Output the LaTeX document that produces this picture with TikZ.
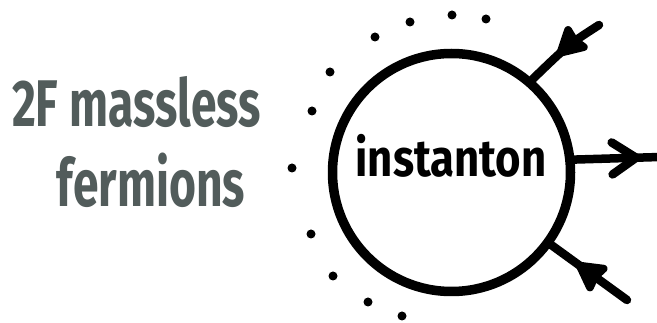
\documentclass[tikz,border=0pt]{standalone}
\usepackage{fontspec}
\setmainfont{Fira Sans}
\newfontfamily\handfont[FakeStretch=0.7]{Fira Sans}
\newfontfamily\blobfont[FakeStretch=0.84]{Fira Sans}
\usetikzlibrary{arrows.meta,decorations.markings}
\definecolor{ink}{HTML}{000000}
\definecolor{slate}{HTML}{525C5B}

\begin{document}
\begin{tikzpicture}[x=1pt, y=-1pt,
  blob/.style={circle, draw=ink, line width=9.5pt, minimum size=238pt, inner sep=0pt},
  fermion/.style={draw=ink, line width=8.5pt, line cap=round},
  inflow/.style={fermion, postaction={decorate, decoration={markings,
    mark=at position #1 with {\arrow{Stealth[length=34pt, width=36pt, inset=3pt, round]}}}}},
  outflow/.style={fermion, postaction={decorate, decoration={markings,
    mark=at position #1 with {\arrow{Straight Barb[length=24pt, width=32pt, round]}}}}},
  tag/.style={font=\handfont\bfseries\fontsize{66}{70}\selectfont, text=slate, anchor=base, inner sep=0pt},
  blobtag/.style={font=\blobfont\bfseries\fontsize{52}{56}\selectfont, text=ink, anchor=base, inner sep=0pt},
  vacdot/.style={fill=ink}
]
  \useasboundingbox (0,0) rectangle (657,323);

  % the left-hand label
  \node[tag] (massless) at (136.5,127) {2F massless};
  \node[tag] (fermions) at (151,207) {fermions};

  % instanton blob and the dotted halo round its left side
  \node[blob] (inst) at (451.5,172.5) {};
  \node[blobtag] (instlabel) at (451,177) {instanton};
  \foreach \x/\y in {486/19, 452/15, 410/22, 375/37, 330/72, 312/111,
                     292/168, 311/234, 333/276, 368/302, 402/316}
    \fill[vacdot] (\x,\y) circle[radius=4.5];

  % external fermion legs
  \coordinate (legA) at (599,25);
  \coordinate (legB) at (660,157);
  \coordinate (legC) at (627,300);
  \draw[inflow=0.6] (legA) .. controls (568,45) .. (inst.49);
  \draw[outflow=0.77] (inst.6) -- (legB);
  \draw[inflow=0.67] (legC) -- (inst.-36);
\end{tikzpicture}
\end{document}
